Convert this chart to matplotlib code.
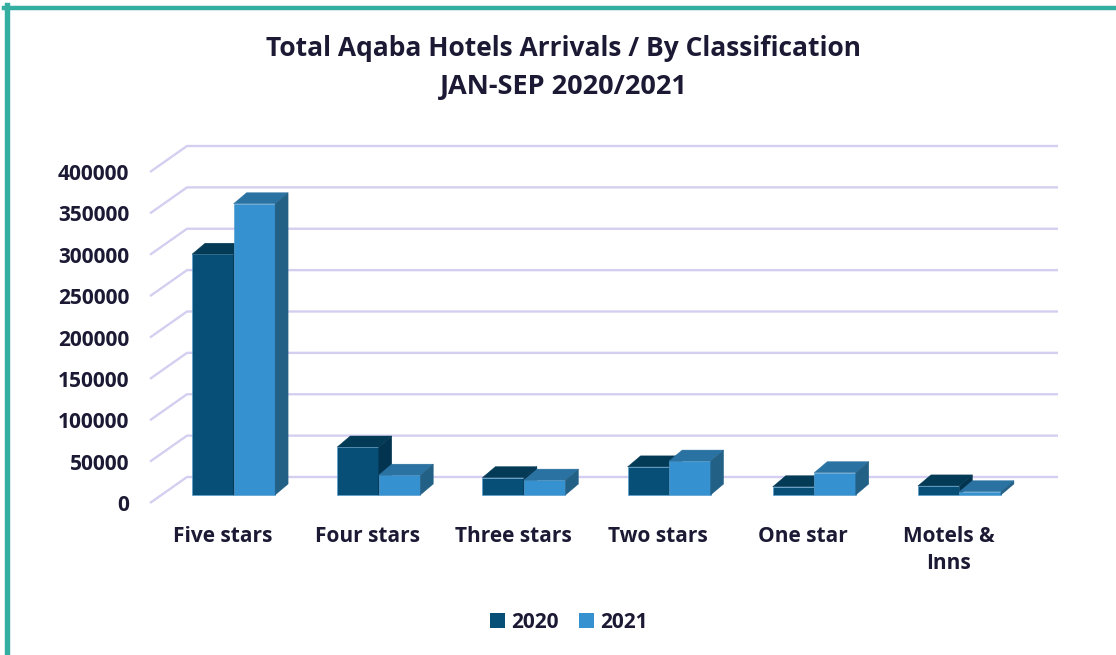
import matplotlib
matplotlib.use("Agg")
import matplotlib.pyplot as plt
from matplotlib.patches import Polygon, Patch
from matplotlib.lines import Line2D

# data
categories = ["Five stars", "Four stars", "Three stars", "Two stars", "One star", "Motels &\nInns"]
arrivals_2020 = [291000, 58000, 21000, 34000, 10000, 11000]
arrivals_2021 = [352000, 24000, 18000, 41000, 27000, 4000]
series_names = ["2020", "2021"]
y_ticks = [0, 50000, 100000, 150000, 200000, 250000, 300000, 350000, 400000]

W, H = 1116, 655
TEXT = "#1B1933"
GRID = "#D4CFF0"
FONT = "Open Sans"
# face colours per series: front, top, side
FACES = [("#074F77", "#033A56", "#03344F"), ("#3591D0", "#2A72A2", "#236086")]

fig = plt.figure(figsize=(W / 100, H / 100), dpi=100)
fig.patch.set_facecolor("white")

# front plane of the 3-D box, in pixels
left, right, top, bottom = 150, 1021, 172, 503
ax = fig.add_axes([left / W, (H - bottom) / H, (right - left) / W, (bottom - top) / H])
ax.set_xlim(-0.5, len(categories) - 0.5)
ax.set_ylim(0, 400000)
ax.set_facecolor("none")
for s in ax.spines.values():
    s.set_visible(False)

x_per_px = len(categories) / (right - left)
y_per_px = 400000 / (bottom - top)


def shift(dx, dy):
    """pixel offset (right, up) -> data offset"""
    return dx * x_per_px, dy * y_per_px


plane_dx, plane_dy = shift(37, 26)
front_dx, front_dy = shift(11, 8)
back_dx, back_dy = shift(24, 19)

# back wall grid lines with the diagonal on the left side
x0, x1 = ax.get_xlim()
for v in y_ticks:
    ax.plot([x0, x0 + plane_dx, x1 + plane_dx], [v, v + plane_dy, v + plane_dy],
            color=GRID, lw=1.7, clip_on=False, zorder=0, solid_capstyle="butt")

bw = 0.286
for j, values in enumerate([arrivals_2020, arrivals_2021]):
    front, topc, side = FACES[j]
    for i, v in enumerate(values):
        xl = i - bw + j * bw
        z = 2 + j
        ax.bar(xl + front_dx, v, bw, bottom=front_dy, align="edge", color=front,
               edgecolor="#5C9FCF", linewidth=0.5, zorder=z, clip_on=False)
        top_face = [(xl + front_dx, v + front_dy), (xl + bw + front_dx, v + front_dy),
                    (xl + bw + back_dx, v + back_dy), (xl + back_dx, v + back_dy)]
        side_face = [(xl + bw + front_dx, front_dy), (xl + bw + back_dx, back_dy),
                     (xl + bw + back_dx, v + back_dy), (xl + bw + front_dx, v + front_dy)]
        ax.add_patch(Polygon(top_face, closed=True, facecolor=topc, edgecolor=topc,
                             lw=0.3, zorder=z, clip_on=False))
        ax.add_patch(Polygon(side_face, closed=True, facecolor=side, edgecolor=side,
                             lw=0.3, zorder=z, clip_on=False))

ax.set_yticks(y_ticks)
ax.set_yticklabels([str(t) for t in y_ticks], fontsize=15, fontweight="bold",
                   color=TEXT, family=FONT)
ax.set_xticks(range(len(categories)))
ax.set_xticklabels(categories, fontsize=15, fontweight="bold", color=TEXT,
                   family=FONT, linespacing=1.4, va="top")
ax.tick_params(axis="y", length=0, pad=15)
ax.tick_params(axis="x", length=0, pad=16.5)

fig.text(563 / W, 1 - 48 / H, "Total Aqaba Hotels Arrivals / By Classification",
         ha="center", va="center", fontsize=19, fontweight="bold", color=TEXT, family=FONT)
fig.text(564 / W, 1 - 87 / H, "JAN-SEP 2020/2021",
         ha="center", va="center", fontsize=19.5, fontweight="bold", color=TEXT, family=FONT)

handles = [Patch(facecolor=FACES[k][0], edgecolor="none") for k in range(2)]
leg = fig.legend(handles, series_names, loc="center", bbox_to_anchor=(569 / W, 1 - 622 / H),
                 ncol=2, frameon=False, handlelength=0.7, handleheight=0.7,
                 handletextpad=0.3, columnspacing=1.0,
                 prop={"family": FONT, "weight": "bold", "size": 15})
for t in leg.get_texts():
    t.set_color(TEXT)

# teal frame on the top and left
fig.add_artist(Line2D([4 / W, 1], [1 - 7.5 / H, 1 - 7.5 / H], color="#35AEA2", lw=3.2,
                      transform=fig.transFigure))
fig.add_artist(Line2D([6.5 / W, 6.5 / W], [0, 1 - 5 / H], color="#35AEA2", lw=3.9,
                      transform=fig.transFigure))

fig.savefig("out.png", dpi=100)
